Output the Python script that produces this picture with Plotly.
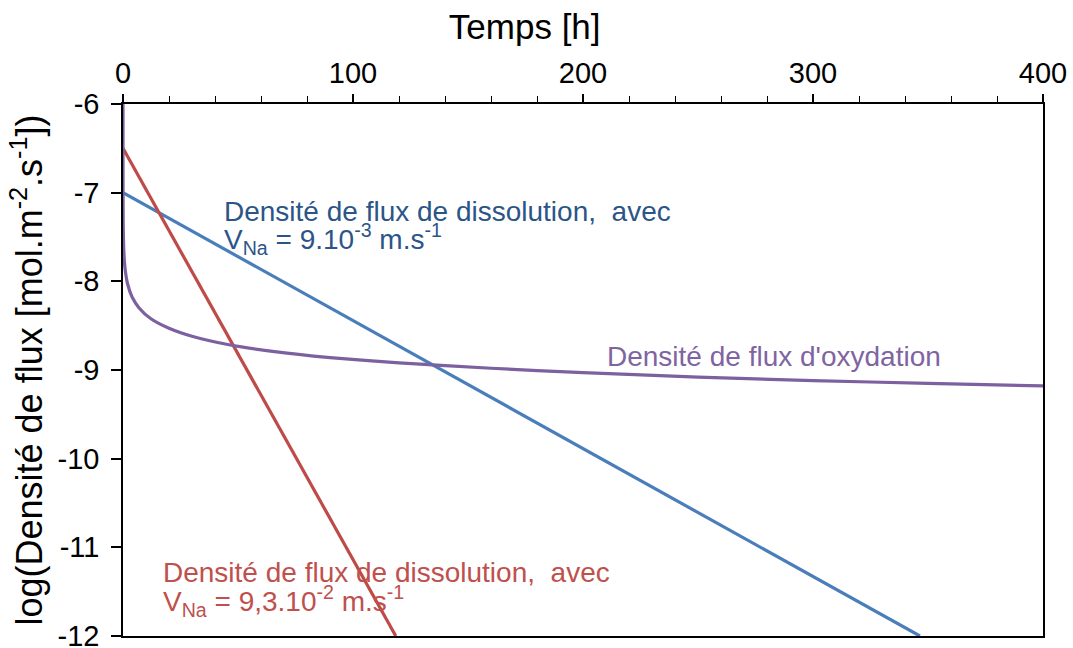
import plotly.graph_objects as go

# Time axis (hours) and log10 of flux densities [mol.m-2.s-1]
t_dissol_fast = [0, 50, 100, 118.6]
log_dissol_fast = [-6.5, -8.82, -11.14, -12.0]

t_dissol_slow = [0, 100, 200, 300, 346.5]
log_dissol_slow = [-7.0, -8.443, -9.886, -11.33, -12.0]

t_oxyd = [0.0002, 0.002, 0.02, 0.1, 0.3, 0.6, 1, 2, 4, 7, 12, 20, 30, 45, 65,
          90, 120, 160, 200, 250, 300, 350, 400]
log_oxyd = [-6.0, -6.53, -7.03, -7.38, -7.62, -7.77, -7.88, -8.03, -8.18, -8.30,
            -8.42, -8.53, -8.62, -8.71, -8.79, -8.86, -8.92, -8.98, -9.03,
            -9.08, -9.12, -9.15, -9.18]

x_range = [0, 400]
y_range = [-12, -6]
y_tickvals = [-12, -11, -10, -9, -8, -7, -6]
y_ticktext = ["-12", "-11", "-10", "-9", "-8", "-7", "-6"]

FONT = "Liberation Sans, Arial, sans-serif"
BLUE, RED, PURPLE = "#4A7EBB", "#BE4B48", "#7D60A0"

fig = go.Figure()
fig.add_trace(go.Scatter(x=t_dissol_slow, y=log_dissol_slow, mode="lines",
                         line=dict(color=BLUE, width=3.2), showlegend=False))
fig.add_trace(go.Scatter(x=t_dissol_fast, y=log_dissol_fast, mode="lines",
                         line=dict(color=RED, width=3.2), showlegend=False))
fig.add_trace(go.Scatter(x=t_oxyd, y=log_oxyd, mode="lines",
                         line=dict(color=PURPLE, width=3.2, shape="spline", smoothing=0.6),
                         showlegend=False))

def label(x, y, text, color):
    fig.add_annotation(x=x, y=y, xref="x", yref="y", text=text, showarrow=False,
                       xanchor="left", yanchor="middle",
                       font=dict(family=FONT, size=28, color=color))

label(42.9, -7.209, "Densité de flux de dissolution,  avec", "#2C5587")
label(42.9, -7.525, "V<sub>Na</sub> = 9.10<sup>-3</sup> m.s<sup>-1</sup>", "#2C5587")
label(16.7, -11.288, "Densité de flux de dissolution,  avec", "#C0504D")
label(16.7, -11.605, "V<sub>Na</sub> = 9,3.10<sup>-2</sup> m.s<sup>-1</sup>", "#C0504D")
label(209.4, -8.847, "Densité de flux d'oxydation", "#8064A2")

fig.update_layout(
    width=1073, height=648,
    margin=dict(l=123, r=30, t=104, b=12),
    paper_bgcolor="white", plot_bgcolor="white",
    font=dict(family=FONT, color="black"),
    title=dict(text="Temps [h]", font=dict(size=35, family=FONT, color="black"),
               xref="container", yref="container", x=0.489, y=0.958,
               xanchor="center", yanchor="middle"),
    xaxis=dict(
        range=x_range, side="top", dtick=100, showgrid=False, zeroline=False,
        automargin=False, ticklabeloverflow="allow",
        showline=True, linecolor="black", linewidth=1.5, mirror=True,
        ticks="outside", ticklen=8, tickwidth=1.5, tickcolor="black",
        minor=dict(dtick=20, ticks="outside", ticklen=6, tickwidth=1, tickcolor="black"),
        tickfont=dict(size=29, family=FONT),
    ),
    xaxis2=dict(
        range=x_range, matches="x", overlaying="x", side="top", anchor="y",
        dtick=100, showgrid=False, zeroline=False, showline=False, automargin=False,
        showticklabels=False, ticks="inside", ticklen=10, tickwidth=1.5,
        tickcolor="black",
    ),
    yaxis=dict(
        range=y_range, tickmode="array", tickvals=y_tickvals, ticktext=y_ticktext,
        showgrid=False, zeroline=False, automargin=False, ticklabeloverflow="allow",
        showline=True, linecolor="black", linewidth=1.5, mirror=True,
        ticks="outside", ticklen=10, tickwidth=1.5, tickcolor="black",
        tickfont=dict(size=29, family=FONT), ticklabelstandoff=6,
        title=dict(text="log(Densité de flux [mol.m<sup>-2</sup>.s<sup>-1</sup>])",
                   font=dict(size=36, family=FONT), standoff=4),
    ),
)

fig.write_html("out.html")
